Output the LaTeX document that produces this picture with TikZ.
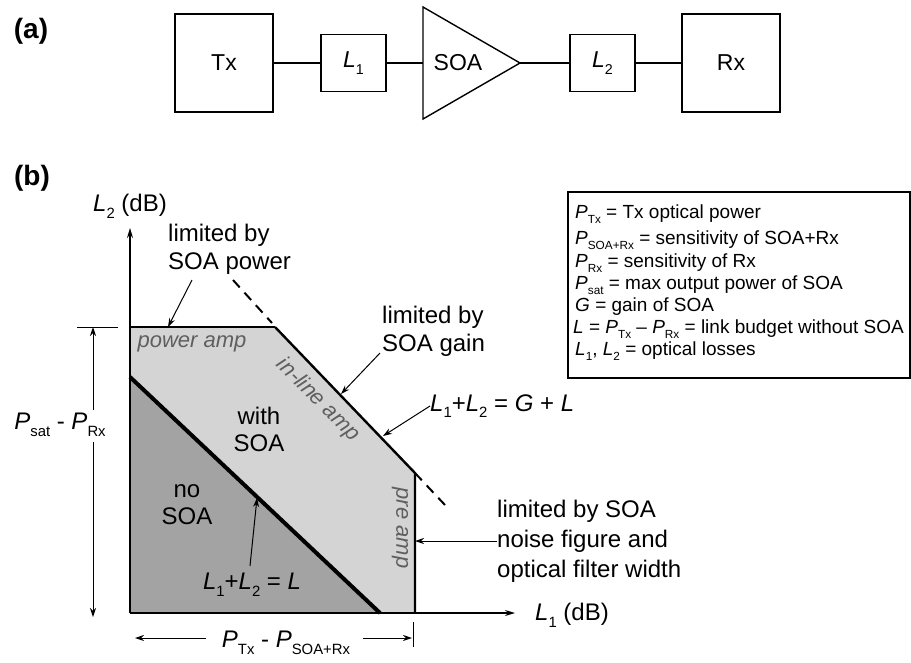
\documentclass[tikz,border=0pt]{standalone}
\usepackage{fontspec}
\setmainfont{Liberation Sans}
\usetikzlibrary{arrows.meta}
\newcommand{\lsub}[1]{\raisebox{-0.28em}{\scalebox{0.62}{#1}}}
\definecolor{lightreg}{RGB}{212,212,212}
\definecolor{darkreg}{RGB}{163,163,163}
\definecolor{amptext}{RGB}{95,95,95}
\begin{document}
\begin{tikzpicture}[x=1pt,y=-1pt,
  lbl/.style={inner sep=0pt, font=\fontsize{24}{28}\selectfont},
  leg/.style={inner sep=0pt, anchor=base west, font=\fontsize{19}{23}\selectfont},
  amp/.style={inner sep=0pt, font=\fontsize{22}{26}\selectfont\itshape, text=amptext},
  blk/.style={draw, line width=1.4pt, inner sep=0pt, font=\fontsize{23}{27}\selectfont},
  panel/.style={inner sep=0pt, font=\fontsize{28}{32}\selectfont\bfseries},
  wire/.style={line width=1.4pt},
  tipa/.style={-{Stealth[length=9pt,width=6pt]}, line width=1pt},
  axis/.style={-{Stealth[length=10pt,width=6pt]}, line width=1.4pt},
  bound/.style={line width=2.4pt},
  dashext/.style={line width=2pt, dash pattern=on 10pt off 7pt}]
\useasboundingbox (0,0) rectangle (911,662);
% ---------------- (a) ----------------
\node[panel] (pa) at (31,31) {(a)};
\node[blk, minimum width=98pt, minimum height=98pt] (tx) at (224,63) {Tx};
\node[blk, minimum width=65pt, minimum height=57pt] (l1) at (353.5,63) {\textit{L}\lsub{1}};
\coordinate (soain) at (423,63);
\coordinate (soatip) at (520,63);
\draw[line width=1.4pt, line join=miter] (423,7) -- (soatip) -- (423,119) -- cycle;
\node[lbl, font=\fontsize{23}{27}\selectfont] (soa) at (458,63) {SOA};
\node[blk, minimum width=65pt, minimum height=57pt] (l2) at (602.5,63) {\textit{L}\lsub{2}};
\node[blk, minimum width=98pt, minimum height=98pt] (rx) at (731,63) {Rx};
\draw[wire] (tx) -- (l1);
\draw[wire] (l1) -- (soain);
\draw[wire] (soatip) -- (l2);
\draw[wire] (l2) -- (rx);
% ---------------- (b) ----------------
\node[panel] (pb) at (32,178) {(b)};
\coordinate (O) at (130,613);
\coordinate (ytop) at (130,228);
\coordinate (xend) at (515,613);
\coordinate (pl) at (130,327);
\coordinate (pr) at (275,327);
\coordinate (dr) at (415,473);
\coordinate (db) at (415,613);
\coordinate (ta) at (130,377);
\coordinate (tb) at (380,613);
\fill[lightreg] (pl) -- (pr) -- (dr) -- (db) -- (O) -- cycle;
\fill[darkreg] (ta) -- (tb) -- (O) -- cycle;
\draw[line width=4pt] (ta) -- (tb);
\draw[bound] (pl) -- (pr);
\draw[bound, line join=miter] (pr) -- (dr) -- (db);
\coordinate (d1) at (233,280);
\coordinate (d2) at (272,323);
\coordinate (d3) at (445,505);
\draw[dashext] (d1) -- (d2);
\draw[dashext] (dr) -- (d3);
\draw[axis] (O) -- (ytop);
\draw[axis] (O) -- (xend);
\node[lbl] (yl) at (130,206) {\textit{L}\lsub{2} (dB)};
\node[lbl, anchor=west] (xl) at (535,615) {\textit{L}\lsub{1} (dB)};
% vertical dimension
\coordinate (tk1) at (77,327);
\coordinate (tk2) at (118,327);
\draw[line width=1pt] (tk1) -- (tk2);
\node[lbl] (psat) at (60,425) {\textit{P}\lsub{sat} - \textit{P}\lsub{Rx}};
\coordinate (va) at (93,327);
\coordinate (vb) at (93,617);
\draw[tipa] (93,410) -- (va);
\draw[tipa] (93,442) -- (vb);
% horizontal dimension
\node[lbl] (ptx) at (286,643) {\textit{P}\lsub{Tx} - \textit{P}\lsub{SOA+Rx}};
\coordinate (ha) at (135,638);
\coordinate (hb) at (412,638);
\draw[tipa] (206,638) -- (ha);
\draw[tipa] (363,638) -- (hb);
\coordinate (hk1) at (413,622);
\coordinate (hk2) at (413,647);
\draw[line width=1pt] (hk1) -- (hk2);
% region labels
\node[amp] (pamp) at (192,344) {power amp};
\node[amp, rotate=-45] (iamp) at (318,400) {in-line amp};
\node[amp, rotate=-90] (ramp) at (400,528) {pre amp};
\node[lbl, align=center, font=\fontsize{24}{27}\selectfont] (with) at (259,429) {with\\SOA};
\node[lbl, align=center, font=\fontsize{24}{27}\selectfont] (noso) at (187,505) {no\\SOA};
% annotations
\node[lbl, align=left, anchor=west, font=\fontsize{24}{28}\selectfont] (lp) at (168,249) {limited by\\SOA power};
\coordinate (lpt) at (168,327);
\draw[tipa] (192,280) -- (lpt);
\node[lbl, align=left, anchor=west, font=\fontsize{24}{28}\selectfont] (lg) at (382,331) {limited by\\SOA gain};
\coordinate (lgt) at (341,394);
\draw[tipa] (380,353) -- (lgt);
\node[lbl, anchor=west] (eq1) at (430,406) {\textit{L}\lsub{1}+\textit{L}\lsub{2} = \textit{G} + \textit{L}};
\coordinate (eqt) at (383,436);
\draw[tipa] (eq1.west) -- (eqt);
\node[lbl, align=left, anchor=west, font=\fontsize{24}{30}\selectfont] (ln) at (497,541) {limited by SOA\\noise figure and\\optical filter width};
\coordinate (lnt) at (415,541);
\draw[tipa] (ln.west) -- (lnt);
\node[lbl] (eq2) at (252,585) {\textit{L}\lsub{1}+\textit{L}\lsub{2} = \textit{L}};
\coordinate (eq2t) at (257,498);
\draw[tipa] (250,566) -- (eq2t);
% legend
\node[draw, line width=1.4pt, minimum width=342pt, minimum height=186pt, inner sep=0pt] (legbox) at (739,285) {};
\node[leg] (g1) at (575,218) {\textit{P}\lsub{Tx} = Tx optical power};
\node[leg] (g2) at (575,244) {\textit{P}\lsub{SOA+Rx} = sensitivity of SOA+Rx};
\node[leg] (g3) at (575,267) {\textit{P}\lsub{Rx} = sensitivity of Rx};
\node[leg] (g4) at (575,289) {\textit{P}\lsub{sat} = max output power of SOA};
\node[leg] (g5) at (575,311) {\textit{G} = gain of SOA};
\node[leg] (g6) at (573,333) {\textit{L} = \textit{P}\lsub{Tx} -- \textit{P}\lsub{Rx} = link budget without SOA};
\node[leg] (g7) at (575,355) {\textit{L}\lsub{1}, \textit{L}\lsub{2} = optical losses};
\end{tikzpicture}
\end{document}
